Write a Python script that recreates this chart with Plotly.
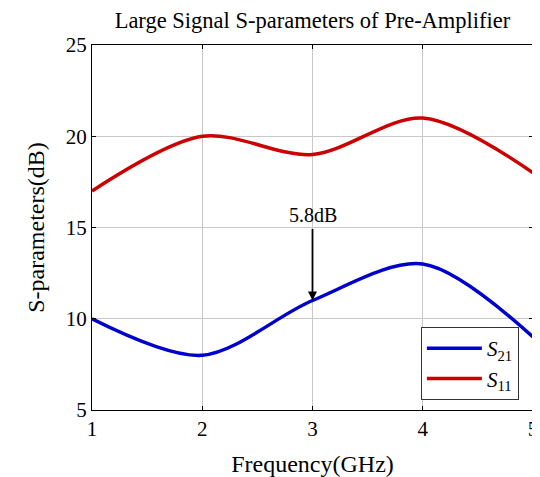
import plotly.graph_objects as go

freq = [1, 2, 3, 4, 5]
s21 = [10, 8, 11, 13, 9]
s11 = [17, 20, 19, 21, 18]
x_ticks = [1, 2, 3, 4, 5]
y_ticks = [5, 10, 15, 20, 25]
arrow_x = 3
arrow_tail = 15
arrow_head = 11
arrow_label = "5.8dB"

FONT = "Liberation Serif"

fig = go.Figure()
fig.add_trace(go.Scatter(x=freq, y=s21, mode="lines", line=dict(color="#0000cc", width=3.5, shape="spline", smoothing=0.9),
                         name="<i>S</i><sub>21</sub>"))
fig.add_trace(go.Scatter(x=freq, y=s11, mode="lines", line=dict(color="#cc0000", width=3.5, shape="spline", smoothing=0.9),
                         name="<i>S</i><sub>11</sub>"))

fig.add_annotation(x=arrow_x, y=arrow_head, ax=arrow_x, ay=arrow_tail, xref="x", yref="y", axref="x", ayref="y",
                   showarrow=True, arrowhead=2, arrowsize=1, arrowwidth=1.8, arrowcolor="black", text="")
fig.add_annotation(x=arrow_x, y=arrow_tail, xref="x", yref="y", text=arrow_label, showarrow=False,
                   yanchor="bottom", yshift=0, font=dict(family=FONT, size=20, color="black"))

fig.update_layout(
    width=532, height=469,
    margin=dict(l=84, r=7, t=37, b=67, autoexpand=False),
    paper_bgcolor="white", plot_bgcolor="white",
    font=dict(family=FONT, size=20, color="black"),
    title=dict(text="Large Signal S-parameters of Pre-Amplifier", xref="paper", x=0.5, xanchor="center",
               yref="container", y=0.992, yanchor="top",
               font=dict(family=FONT, size=22.5, color="black")),
    legend=dict(x=0.968, y=0.027, xanchor="right", yanchor="bottom", bgcolor="white", bordercolor="#333333",
                borderwidth=1, font=dict(family=FONT, size=21), tracegroupgap=0, itemwidth=55),
    xaxis=dict(range=[1, 5], tickvals=x_ticks, showgrid=True, gridcolor="#c8c8c8", gridwidth=1, automargin=False,
               showline=True, linecolor="black", linewidth=1, mirror="ticks", ticks="inside", ticklen=4,
               tickcolor="black", title=dict(text="Frequency(GHz)", standoff=14), zeroline=False,
               tickfont=dict(size=21), ticklabeloverflow="allow"),
    yaxis=dict(range=[5, 25], tickvals=y_ticks, showgrid=True, gridcolor="#c8c8c8", gridwidth=1, automargin=False,
               showline=True, linecolor="black", linewidth=1, mirror="ticks", ticks="inside", ticklen=4,
               tickcolor="black", title=dict(text="S-parameters(dB)", standoff=14), zeroline=False,
               tickfont=dict(size=21), ticklabeloverflow="allow"),
)

fig.write_html("out.html")
